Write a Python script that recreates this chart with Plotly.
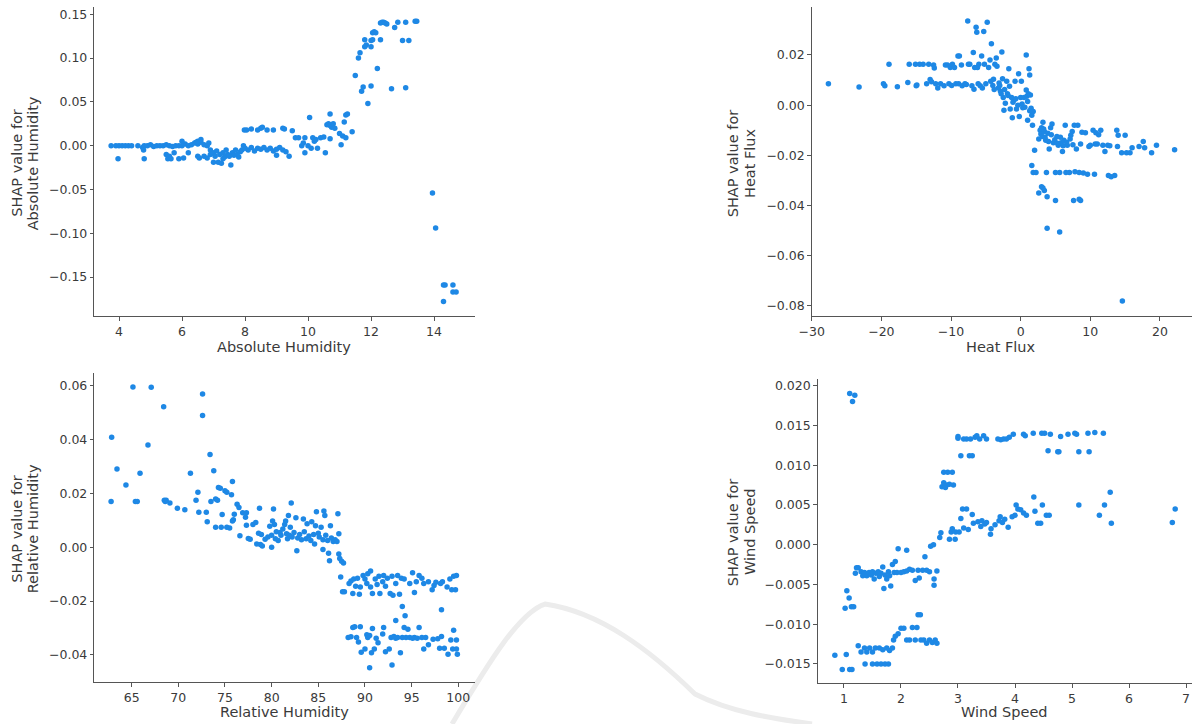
import plotly.graph_objects as go

# ---------------- data ----------------
ah_x = [3.75, 3.9, 4.0, 4.1, 4.2, 4.3, 4.4, 4.6, 4.75, 4.8, 4.9, 5.0, 5.1, 5.2, 5.3, 5.4, 5.5, 5.6, 5.7, 5.8,
        5.9, 6.0, 6.1, 6.2, 6.3, 6.4, 6.5, 6.6, 6.7, 6.8,
        3.97, 4.8, 4.78, 5.5, 5.55, 5.6, 5.65, 5.75, 5.9, 6.05, 6.2, 6.5, 6.55, 6.7, 6.8, 6.9, 6.5, 6.6, 6.45, 6.0, 6.85,
        6.9, 7.0, 7.05, 7.1, 7.15, 7.2, 7.25, 7.3, 7.35, 7.4, 7.45, 7.5, 7.55, 7.6, 7.65, 7.7, 7.75, 7.8, 7.85, 7.9, 7.0, 7.3,
        7.95, 8.0, 8.1, 8.2, 8.3, 8.4, 8.5, 8.6, 8.7, 8.8, 8.9, 9.0, 9.1, 9.2, 9.3, 9.0, 9.4,
        7.98, 8.05, 8.2, 8.4, 8.5, 8.55, 8.7, 8.9, 9.2, 9.25, 9.5,
        9.6, 9.7, 9.8, 9.85, 9.9, 9.9, 10.0, 10.05, 10.1, 10.15, 10.2, 10.25, 10.3, 10.4, 10.5, 10.55, 10.6, 10.65,
        10.7, 10.7, 10.75, 10.8, 10.85, 10.7, 11.0, 11.05, 11.1, 11.15, 11.2, 11.25, 11.2, 11.4,
        11.5, 11.6, 11.65, 11.7, 11.75, 11.8, 11.85, 11.8, 11.9, 12.0, 12.0, 12.05, 12.05, 12.1, 12.15, 12.0, 12.2,
        12.3, 12.35, 12.4, 12.45, 12.5, 12.3, 12.65, 12.75, 12.85, 13.0, 13.1, 13.1, 13.2, 13.45, 13.4,
        13.95, 14.05, 14.3, 14.35, 14.3, 14.6, 14.6, 14.7]
ah_y = [0.0, 0.0, 0.0, 0.0, 0.0, 0.0, 0.0, 0.0, -0.002, 0.0, 0.0, 0.001, -0.001, 0.0, 0.0, 0.0, 0.001, 0.0, -0.001, 0.0,
        0.0, 0.0, 0.002, 0.0, 0.001, 0.003, 0.002, 0.004, 0.001, 0.0,
        -0.015, -0.015, -0.005, -0.01, -0.015, -0.012, -0.015, -0.008, -0.015, -0.014, -0.008, -0.012, -0.014, -0.012, -0.014, -0.01, 0.005, 0.007, 0.004, 0.005, 0.003,
        -0.005, -0.008, -0.012, -0.006, -0.019, -0.01, -0.02, -0.008, -0.013, -0.005, -0.01, -0.012, -0.022, -0.008, -0.011, -0.005, -0.01, -0.013, -0.007, -0.005, -0.019, -0.015,
        0.0, -0.003, -0.005, -0.002, -0.006, -0.003, -0.004, -0.002, -0.005, -0.003, -0.006, -0.004, -0.002, -0.005, -0.007, -0.011, -0.012,
        0.018, 0.018, 0.019, 0.018, 0.02, 0.021, 0.018, 0.018, 0.02, 0.019, 0.017,
        0.009, 0.009, 0.0, 0.003, -0.008, 0.009, 0.0, 0.032, -0.003, 0.009, 0.005, 0.007, -0.003, 0.009, 0.01, -0.008, 0.024, 0.025,
        0.036, 0.023, 0.021, 0.025, 0.02, 0.008, 0.014, 0.001, 0.011, 0.027, 0.035, 0.036, 0.009, 0.016,
        0.08, 0.1, 0.106, 0.062, 0.067, 0.113, 0.115, 0.121, 0.048, 0.113, 0.12, 0.121, 0.129, 0.13, 0.129, 0.068, 0.088,
        0.14, 0.141, 0.141, 0.14, 0.139, 0.121, 0.065, 0.135, 0.141, 0.12, 0.141, 0.066, 0.12, 0.142, 0.142,
        -0.054, -0.094, -0.159, -0.159, -0.178, -0.159, -0.167, -0.167]

hf_x = [-27.6, -23.2, -19.7, -19.5, -18.9, -17.7, -16.2, -16.0, -15.0, -14.9, -15.1, -14.5, -14.0, -13.5, -13.2, -13.0,
        -12.8, -12.5, -12.4, -12.2, -11.9, -11.5, -11.0, -10.8, -10.5, -10.3, -10.1, -9.8, -9.5, -9.3, -9.0, -8.8,
        -8.5, -8.4, -8.0, -7.6, -7.5, -7.3, -7.0, -6.8, -6.7, -6.6, -6.4, -6.3, -6.2, -6.0, -5.8, -5.6, -5.3, -5.2,
        -5.0, -4.8, -4.6, -4.4, -4.2, -4.0, -3.9, -3.7, -3.5, -3.4, -3.2, -3.0, -2.9, -2.7, -2.6, -2.5, -2.4, -2.2,
        -2.0, -1.9, -1.7, -1.6, -1.5, -1.3, -1.2, -1.0, -0.8, -0.6, -0.4, -0.3, -0.2, 0.0, 0.1, 0.3, 0.5, 0.8, 0.8,
        0.9, 1.0, 1.1, 1.2, 1.3, 1.4, 1.5, 1.6, 1.7, 1.8, 2.0, 1.6, 1.8, 2.2,
        -9.9, -8.9, -7.8, -6.1, -5.5, -4.3, -3.8, -3.1, -2.8, -2.3, -1.8, -1.1, -0.7, 0.2, 0.6, 1.0, 1.3,
        2.6, 2.8, 3.0, 3.2, 3.4, 3.6, 3.7, 3.9, 4.1, 4.3, 4.5, 4.7, 5.0, 5.2, 5.4, 5.6, 5.8, 6.0, 6.2, 6.4, 6.5,
        6.7, 7.0, 7.2, 7.4, 7.7, 7.8, 8.0, 8.2, 8.4, 8.6, 9.0, 9.3, 9.6, 10.0, 10.4, 10.6, 10.8, 11.0, 11.5, 11.8,
        12.1, 12.5, 12.6, 13.0, 13.5, 13.8, 13.9, 14.0, 14.5, 14.6, 15.0, 15.2, 15.7, 16.0, 17.0, 17.6, 17.8, 18.8,
        19.5, 22.1,
        2.9, 3.1, 3.3, 3.5, 4.0, 4.4, 4.9, 5.3, 5.7, 6.1, 6.6, 7.1, 7.5, 8.8, 9.8, 10.7, 11.2, 12.8,
        2.6, 3.0, 3.2, 3.4, 3.8, 3.8, 5.0, 5.6, 7.6, 8.4, 8.6]
hf_y = [0.0085, 0.0072, 0.0085, 0.0077, 0.0163, 0.0073, 0.009, 0.0163, 0.0077, 0.008, 0.0163, 0.0163, 0.0163, 0.0085,
        0.0163, 0.0102, 0.0093, 0.016, 0.0148, 0.0085, 0.0068, 0.0085, 0.0077, 0.016, 0.016, 0.0085, 0.015, 0.0163,
        0.015, 0.0085, 0.0196, 0.0196, 0.016, 0.0077, 0.0085, 0.0335, 0.0163, 0.0163, 0.0077, 0.021, 0.0063, 0.015,
        0.031, 0.029, 0.015, 0.0163, 0.0077, 0.0196, 0.0293, 0.0163, 0.0085, 0.033, 0.015, 0.018, 0.0245, 0.0078,
        0.0103, 0.0163, 0.0188, 0.0155, 0.0068, 0.0078, 0.0055, 0.0212, 0.0105, 0.003, -0.002, 0.0008, 0.0095,
        0.0045, 0.0145, 0.0075, -0.0015, 0.003, -0.005, 0.002, 0.0095, -0.0015, 0.0, 0.0125, -0.0045, 0.003, 0.0095,
        -0.001, 0.003, 0.02, 0.006, 0.0035, -0.006, 0.0045, 0.0145, 0.012, 0.004, -0.0012, -0.004, -0.008, -0.0025,
        -0.018, -0.024, -0.0268, -0.0268,
        0.0078, 0.0085, 0.0082, 0.0085, 0.0068, 0.0095, 0.0062, 0.0088, 0.0045, 0.0062, 0.0038, 0.0012, 0.0025,
        0.0005, -0.0008, 0.0015, -0.0022,
        -0.0135, -0.01, -0.009, -0.0068, -0.0105, -0.014, -0.0268, -0.0112, -0.0175, -0.009, -0.0075, -0.015,
        -0.0268, -0.0125, -0.016, -0.0268, -0.015, -0.0185, -0.014, -0.008, -0.0268, -0.016, -0.0268, -0.012,
        -0.0105, -0.008, -0.0265, -0.0175, -0.008, -0.0268, -0.0155, -0.027, -0.011, -0.0275, -0.016, -0.01,
        -0.0275, -0.011, -0.0155, -0.01, -0.016, -0.0185, -0.016, -0.028, -0.0285, -0.028, -0.01, -0.0165, -0.012,
        -0.019, -0.078, -0.012, -0.019, -0.019, -0.017, -0.0165, -0.0145, -0.017, -0.019, -0.016, -0.0178,
        -0.0115, -0.0125, -0.0095, -0.0128, -0.0145, -0.0118, -0.0138, -0.0152, -0.0128, -0.0162, -0.0148,
        -0.0135, -0.0158, -0.0108, -0.0165, -0.0155, -0.0118, -0.0162,
        -0.035, -0.0325, -0.033, -0.034, -0.0365, -0.049, -0.038, -0.0505, -0.038, -0.0375, -0.038]

rh_x = [62.86, 62.8, 63.43, 64.39, 65.14, 65.4, 65.6, 65.9, 66.75, 67.1, 68.43, 68.5, 68.7, 68.6, 69.1, 69.9, 70.7,
        71.3, 71.9, 72.1, 72.2, 72.6, 72.6, 73.0, 73.1, 73.4, 73.5, 73.8, 74.0, 74.0, 74.2, 74.3, 74.5, 74.6, 74.7,
        75.0, 75.2, 75.2, 75.5, 75.7, 75.8, 75.8, 75.9, 76.0, 76.3, 76.5, 76.6, 76.9, 77.2, 77.3, 77.3, 77.5, 77.7,
        78.0, 78.3, 78.4, 78.6, 78.7, 78.8, 78.9, 79.0, 79.3, 79.6, 79.8, 80.0, 80.0, 80.1, 80.2, 80.3, 80.4, 80.5,
        80.7, 80.9, 81.0, 81.2, 81.4, 81.5, 81.6, 81.7, 81.8, 81.9, 82.0, 82.1, 82.2, 82.4, 82.6, 82.7, 82.8, 83.0,
        83.2, 83.4, 83.5, 83.7, 83.8, 84.0, 84.2, 84.3, 84.5, 84.6, 84.7, 84.8, 85.0, 85.1, 85.3, 85.5, 85.5, 85.6,
        85.7, 85.8, 86.0, 86.1, 86.2, 86.3, 86.4, 86.6, 86.8, 87.0, 87.1, 87.2, 87.2, 87.3, 87.4, 87.5, 87.7, 87.6,
        87.8,
        88.3, 88.5, 88.7, 88.8, 89.0, 89.2, 89.4, 89.5, 89.8, 90.0, 90.2, 90.3, 90.6, 90.6, 90.8, 91.1, 91.3, 91.5,
        91.6, 91.9, 92.0, 92.2, 92.4, 92.7, 92.9, 93.0, 93.3, 93.5, 93.7, 93.9, 94.2, 94.8, 95.1, 95.3, 95.5, 95.8,
        96.1, 96.3, 96.8, 97.2, 97.4, 97.6, 98.1, 98.3, 98.8, 99.1, 99.3, 99.5, 99.7, 99.8,
        94.0, 94.3, 93.3, 98.2,
        88.2, 88.5, 88.7, 88.9, 89.1, 89.3, 89.5, 89.6, 90.0, 90.2, 90.3, 90.5, 90.5, 90.7, 90.8, 91.0, 91.2, 91.4,
        91.9, 92.0, 92.2, 92.6, 92.8, 92.9, 93.1, 93.3, 93.5, 93.8, 94.0, 94.2, 94.4, 94.6, 94.8, 95.1, 95.3, 95.6,
        95.8, 96.1, 96.3, 96.5, 96.8, 97.3, 97.8, 98.0, 98.2, 98.5, 98.9, 99.2, 99.4, 99.5, 99.8, 99.8, 99.9]
rh_y = [0.0409, 0.017, 0.0291, 0.0232, 0.0596, 0.017, 0.017, 0.0275, 0.038, 0.0595, 0.0523, 0.0175, 0.0175, 0.017,
        0.0165, 0.0145, 0.014, 0.0275, 0.0175, 0.0205, 0.013, 0.057, 0.049, 0.013, 0.0095, 0.0345, 0.017, 0.0285,
        0.018, 0.0075, 0.0175, 0.0222, 0.022, 0.0075, 0.0122, 0.021, 0.0205, 0.0075, 0.0072, 0.0195, 0.0245, 0.0098,
        0.0102, 0.0123, 0.016, 0.0148, 0.0043, 0.0128, 0.0112, 0.0128, 0.0082, 0.0033, 0.003, 0.0085, 0.0092,
        0.0012, 0.0052, 0.0145, 0.001, 0.0048, 0.0005, 0.003, 0.0038, 0.0078, 0.0045, 0.0, 0.0098, 0.0142, 0.0085,
        0.0032, 0.0058, 0.0025, 0.0055, 0.0045, 0.0068, 0.0085, 0.0098, 0.005, 0.0032, 0.0118, 0.0045, 0.0075,
        0.0165, 0.0038, 0.0055, 0.011, -0.0013, 0.0035, 0.0048, 0.0028, 0.0105, 0.0058, 0.0032, 0.0088, 0.0042,
        0.0025, 0.0095, 0.0048, 0.0012, 0.008, 0.0132, 0.0052, 0.0038, 0.0075, 0.0028, -0.0008, 0.0135, 0.0118,
        0.0045, 0.0025, -0.0022, -0.005, 0.008, 0.0035, 0.0022, 0.0028, 0.0022, 0.0125, 0.005, -0.0025, -0.0042,
        -0.011, -0.0052, -0.0058, -0.0165, -0.0165,
        -0.0135, -0.0125, -0.0172, -0.0118, -0.0145, -0.0115, -0.0175, -0.0148, -0.0105, -0.0118, -0.0135, -0.0098,
        -0.0148, -0.0088, -0.0172, -0.0118, -0.0138, -0.0108, -0.0172, -0.0128, -0.0105, -0.0145, -0.0115, -0.0172,
        -0.0108, -0.0178, -0.0135, -0.0105, -0.0175, -0.0115, -0.0118, -0.0135, -0.0095, -0.0168, -0.0128, -0.0105,
        -0.0115, -0.0135, -0.0128, -0.0158, -0.0142, -0.013, -0.0135, -0.0128, -0.0148, -0.0118, -0.0158, -0.0108,
        -0.0158, -0.0105,
        -0.022, -0.0255, -0.0272, -0.0232,
        -0.0335, -0.0333, -0.0298, -0.0295, -0.0335, -0.0352, -0.0295, -0.039, -0.0378, -0.0325, -0.0335, -0.0328,
        -0.0448, -0.0392, -0.0302, -0.0378, -0.0338, -0.0355, -0.0322, -0.0298, -0.0388, -0.0378, -0.0335, -0.0438,
        -0.0332, -0.0338, -0.0335, -0.0392, -0.0335, -0.0298, -0.0335, -0.0305, -0.0335, -0.0338, -0.0335, -0.0338,
        -0.0298, -0.0335, -0.0378, -0.0335, -0.0362, -0.0342, -0.034, -0.0375, -0.0332, -0.0375, -0.0398, -0.0345,
        -0.0378, -0.0308, -0.0345, -0.0378, -0.0398]

ws_x = [1.1, 1.15, 1.19, 0.84, 0.97, 1.04, 1.1, 1.14, 1.02, 1.05, 1.09, 1.13, 1.17,
        1.2, 1.22, 1.25, 1.3, 1.33, 1.36, 1.4, 1.44, 1.48, 1.5, 1.53, 1.56, 1.6, 1.62, 1.65, 1.68, 1.7, 1.72, 1.75,
        1.78, 1.8, 1.82, 1.85, 1.88, 1.9, 1.93, 1.95, 2.0, 2.05, 2.1, 2.1, 2.15, 2.2, 2.25, 2.3, 2.32, 2.38, 2.42,
        2.45, 2.5, 2.52, 2.57, 2.58, 2.58, 2.63,
        1.25, 1.3, 1.36, 1.37, 1.4, 1.45, 1.5, 1.5, 1.55, 1.58, 1.62, 1.65, 1.68, 1.72, 1.75, 1.78, 1.8, 1.85, 1.87,
        1.9, 1.95, 2.0, 2.05, 2.1, 2.15, 2.2, 2.25, 2.28, 2.3, 2.34, 2.35, 2.4, 2.45, 2.5, 2.55, 2.6, 2.63,
        2.68, 2.7, 2.72, 2.75, 2.75, 2.78, 2.8, 2.82, 2.85, 2.85, 2.88, 2.9, 2.9, 2.92, 2.95, 2.96, 3.0, 3.0, 3.02,
        3.05, 3.05, 3.08, 3.1, 3.1, 3.15, 3.15, 3.18, 3.2, 3.22, 3.25, 3.25, 3.27, 3.3, 3.33, 3.35, 3.38, 3.4, 3.42,
        3.45, 3.47, 3.5, 3.5, 3.57, 3.58, 3.65, 3.7, 3.72, 3.74, 3.75, 3.78, 3.8, 3.82, 3.85, 3.88, 3.9, 3.95, 3.97,
        4.0, 4.02, 4.05, 4.1, 4.15, 4.15, 4.18, 4.2, 4.32, 4.33, 4.35, 4.4, 4.45, 4.47, 4.48, 4.52, 4.55, 4.58, 4.6,
        4.62, 4.75, 4.77, 4.8, 4.93, 5.05, 5.08, 5.12, 5.12, 5.28, 5.3, 5.4, 5.48, 5.55, 5.57, 5.67, 5.69, 6.76, 6.81]
ws_y = [0.019, 0.018, 0.0188, -0.0139, -0.0157, -0.0138, -0.0157, -0.0157, -0.008, -0.0058, -0.0067, -0.0078, -0.0078,
        -0.0036, -0.0029, -0.0029, -0.0034, -0.0039, -0.0035, -0.0039, -0.0035, -0.0038, -0.0034, -0.0043, -0.0036,
        -0.0034, -0.004, -0.0036, -0.0028, -0.0055, -0.0038, -0.0043, -0.0034, -0.0039, -0.0052, -0.0025, -0.0035,
        -0.0021, -0.0035, -0.0005, -0.0035, -0.0034, -0.0033, -0.0007, -0.0031, -0.0032, -0.0045, -0.0032, -0.0042,
        -0.0032, -0.0015, -0.0032, -0.0034, -0.0002, 0.0, -0.0043, -0.0051, -0.0033,
        -0.0127, -0.0135, -0.013, -0.015, -0.0135, -0.013, -0.0135, -0.015, -0.013, -0.015, -0.013, -0.015, -0.0132,
        -0.015, -0.013, -0.015, -0.0133, -0.013, -0.012, -0.0115, -0.0112, -0.0105, -0.0105, -0.012, -0.012, -0.0104,
        -0.012, -0.0104, -0.0088, -0.0088, -0.012, -0.012, -0.0124, -0.012, -0.0123, -0.012, -0.0124,
        0.0009, 0.0015, 0.0073, 0.0078, 0.0091, 0.0072, 0.0075, 0.0091, 0.0076, 0.0007, 0.0016, 0.002, 0.0091, 0.0075,
        0.0007, 0.0016, 0.0134, 0.0136, 0.0016, 0.0033, 0.0112, 0.0045, 0.0133, 0.0021, 0.0133, 0.0045, 0.0019,
        0.0112, 0.0133, 0.0112, 0.0038, 0.0027, 0.0135, 0.0137, 0.0029, 0.0133, 0.0023, 0.003, 0.0137, 0.0026,
        0.0133, 0.0028, 0.0013, 0.002, 0.0025, 0.0133, 0.003, 0.0035, 0.0132, 0.0028, 0.0133, 0.0032, 0.0133,
        0.0022, 0.0135, 0.0035, 0.0139, 0.0037, 0.005, 0.0045, 0.0044, 0.0139, 0.004, 0.0137, 0.0037, 0.014, 0.006,
        0.0042, 0.0027, 0.0027, 0.014, 0.005, 0.014, 0.0037, 0.0118, 0.0037, 0.0139, 0.0117, 0.0117, 0.0136, 0.0139,
        0.014, 0.0139, 0.005, 0.0117, 0.014, 0.0117, 0.0141, 0.0037, 0.014, 0.005, 0.0066, 0.0027, 0.0028, 0.0045]

x_titles = ["Absolute Humidity", "Heat Flux", "Relative Humidity", "Wind Speed"]
y_title_top = "SHAP value for"
y_titles = ["Absolute Humidity", "Heat Flux", "Relative Humidity", "Wind Speed"]

# ---------------- figure ----------------
W, H = 1197, 724
DOT = "#1E88E5"
FONT = "DejaVu Sans"
INK = "#3a3a3a"

fig = go.Figure()
series = [(ah_x, ah_y), (hf_x, hf_y), (rh_x, rh_y), (ws_x, ws_y)]
for i, (xs, ys) in enumerate(series):
    sfx = "" if i == 0 else str(i + 1)
    fig.add_trace(go.Scatter(x=xs, y=ys, mode="markers", xaxis="x" + sfx, yaxis="y" + sfx,
                             marker=dict(color=DOT, size=5.5, line=dict(width=0)),
                             showlegend=False, hoverinfo="x+y"))

# panel geometry in pixels: (left, right, top, bottom)
boxes = [(94.3, 475, 7, 316), (811.7, 1192, 7, 316), (94.3, 475, 373.3, 682.3), (817.7, 1192, 379.3, 683.3)]
xranges = [[3.216, 15.30], [-30, 24.6], [61.0, 101.79], [0.539, 7.105]]
yranges = [[-0.1945, 0.1583], [-0.084, 0.0391], [-0.0502, 0.0647], [-0.01743, 0.0208]]
xticks = [dict(tick0=4, dtick=2), dict(tick0=-30, dtick=10), dict(tick0=65, dtick=5), dict(tick0=1, dtick=1)]
yticks = [dict(tick0=-0.15, dtick=0.05, tickformat=".2f"), dict(tick0=-0.08, dtick=0.02, tickformat=".2f"),
          dict(tick0=-0.04, dtick=0.02, tickformat=".2f"), dict(tick0=-0.015, dtick=0.005, tickformat=".3f")]

axis_common = dict(showgrid=False, zeroline=False, showline=True, linecolor="#555555", linewidth=1,
                   ticks="outside", ticklen=3.5, tickwidth=1, tickcolor="#555555", automargin=False,
                   tickfont=dict(family=FONT, size=12.5, color=INK), tickmode="linear")

layout = dict(width=W, height=H, margin=dict(l=0, r=0, t=0, b=0, autoexpand=False), plot_bgcolor="rgba(0,0,0,0)",
              paper_bgcolor="white", showlegend=False, template="none",
              font=dict(family=FONT, color=INK))
for i, (l, r, t, b) in enumerate(boxes):
    sfx = "" if i == 0 else str(i + 1)
    layout["xaxis" + sfx] = dict(axis_common, domain=[l / W, r / W], range=xranges[i],
                                 anchor="y" + sfx, **xticks[i])
    layout["yaxis" + sfx] = dict(axis_common, domain=[1 - b / H, 1 - t / H], range=yranges[i],
                                 anchor="x" + sfx, **yticks[i])
fig.update_layout(**layout)

# faint publisher watermark stroke in the lower middle of the page
def px(x, y):
    return f"{x / W:.4f},{1 - y / H:.4f}"

wm_path = ("M " + px(452, 724) + " C " + px(490, 660) + " " + px(520, 612) + " " + px(545, 604)
           + " C " + px(600, 612) + " " + px(650, 650) + " " + px(695, 694)
           + " C " + px(730, 712) + " " + px(770, 718) + " " + px(812, 724))
fig.add_shape(type="path", path=wm_path, xref="paper", yref="paper", layer="below",
              line=dict(color="#ececec", width=5))

xt_pos = [(284, 347), (1001, 347), (284, 712), (1004, 712)]
yt_pos = [(16.7, 33.3, 163), (733.3, 750, 163), (16.7, 33.3, 529), (733.3, 750, 532)]
TS = 14.5
for i in range(4):
    fig.add_annotation(text=x_titles[i], xref="paper", yref="paper", x=xt_pos[i][0] / W, y=1 - xt_pos[i][1] / H,
                       xanchor="center", yanchor="middle", showarrow=False,
                       font=dict(family=FONT, size=TS, color=INK))
    x1, x2, yc = yt_pos[i]
    fig.add_annotation(text=y_title_top, xref="paper", yref="paper", x=x1 / W, y=1 - yc / H,
                       xanchor="center", yanchor="middle", showarrow=False, textangle=-90,
                       font=dict(family=FONT, size=TS, color=INK))
    fig.add_annotation(text=y_titles[i], xref="paper", yref="paper", x=x2 / W, y=1 - yc / H,
                       xanchor="center", yanchor="middle", showarrow=False, textangle=-90,
                       font=dict(family=FONT, size=TS, color=INK))

fig.write_html("out.html")
